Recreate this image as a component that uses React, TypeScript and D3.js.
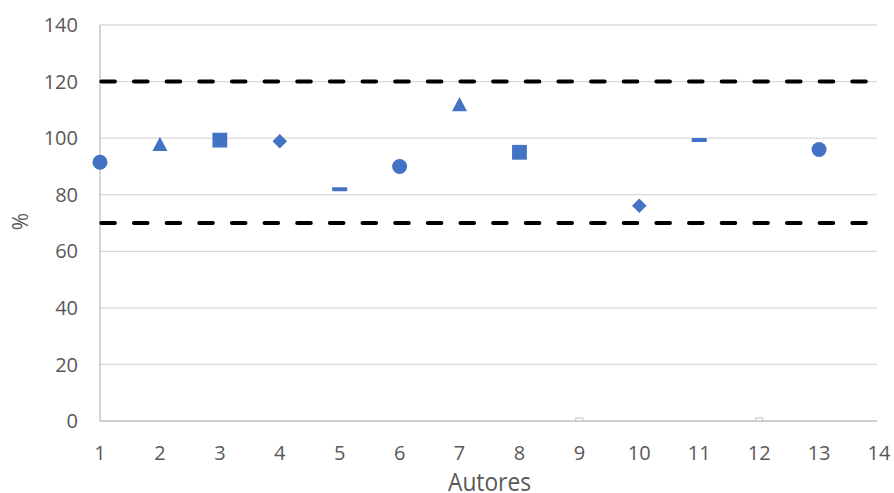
import React from "react";
import * as d3 from "d3";

const authors = [1, 2, 3, 4, 5, 6, 7, 8, 9, 10, 11, 12, 13];
const values = [91.5, 98, 99.3, 98.9, 81.9, 90, 112, 95, 0, 76.1, 99.3, 0, 96];
const shapes = ["circle", "triangle", "square", "diamond", "dash", "circle", "triangle", "square", "empty", "diamond", "dash", "empty", "circle"];
const xTicks = [1, 2, 3, 4, 5, 6, 7, 8, 9, 10, 11, 12, 13, 14];
const yTicks = [0, 20, 40, 60, 80, 100, 120, 140];
const limits = [120, 70];
const limitStart = 1;
const limitEnd = 13.78;

const W = 894;
const H = 493;
const M = { left: 100, right: 879, top: 25, bottom: 421 };
const BLUE = "#4472C4";
const TEXT = "#595959";
const FONT = "'Open Sans', 'Liberation Sans', sans-serif";

export default function App() {
  const x = d3.scaleLinear().domain([1, 14]).range([M.left, M.right]);
  const y = d3.scaleLinear().domain([0, 140]).range([M.bottom, M.top]);

  const marker = (s: string, i: number) => {
    const cx = x(authors[i]);
    const cy = y(values[i]);
    if (s === "circle") {
      return <circle key={i} cx={cx} cy={cy} r={7.5} fill={BLUE} />;
    }
    if (s === "square") {
      return <rect key={i} x={cx - 7.4} y={cy - 7.4} width={14.8} height={14.8} fill={BLUE} />;
    }
    if (s === "triangle") {
      const w = 15, h = 14.3;
      const p = `M0,${-h / 2}L${w / 2},${h / 2}L${-w / 2},${h / 2}Z`;
      return <path key={i} d={p} transform={`translate(${cx},${cy})`} fill={BLUE} />;
    }
    if (s === "diamond") {
      const p = d3.symbol(d3.symbolSquare, 106)();
      return <path key={i} d={p || ""} transform={`translate(${cx},${cy}) rotate(45)`} fill={BLUE} />;
    }
    if (s === "dash") {
      return <rect key={i} x={cx - 7.6} y={cy - 2} width={15.2} height={4} rx={0.8} fill={BLUE} />;
    }
    return <rect key={i} x={cx - 3.5} y={cy - 3} width={7} height={3} fill="white" stroke="#BFBFBF" strokeWidth={1} />;
  };

  return (
    <svg width={W} height={H} style={{ position: "absolute", left: 0, top: 0, display: "block" }}>
      <rect width={W} height={H} fill="white" />
      {yTicks.map((t) => (
        <line key={"g" + t} x1={M.left} x2={877} y1={y(t)} y2={y(t)} stroke={t === 0 ? "#BFBFBF" : "#D9D9D9"} strokeWidth={1.3} />
      ))}
      <line x1={M.left} x2={M.left} y1={M.top} y2={M.bottom} stroke="#BFBFBF" strokeWidth={1.3} />
      {limits.map((l) => (
        <line key={"l" + l} x1={x(limitStart) + 1.3} x2={x(limitEnd)} y1={y(l)} y2={y(l)} stroke="black" strokeWidth={4} strokeDasharray="13.6 19.05" strokeLinecap="round" />
      ))}
      {shapes.map((s, i) => marker(s, i))}
      {yTicks.map((t) => (
        <text key={"yt" + t} x={78} y={y(t)} dy="0.36em" textAnchor="end" fontFamily={FONT} fontSize={20} fill={TEXT}>
          {t}
        </text>
      ))}
      {xTicks.map((t) => (
        <text key={"xt" + t} x={x(t)} y={460} textAnchor="middle" fontFamily={FONT} fontSize={20} fill={TEXT}>
          {t}
        </text>
      ))}
      <text x={489.5} y={491} textAnchor="middle" fontFamily={FONT} fontSize={25} fill={TEXT} textLength={83} lengthAdjust="spacingAndGlyphs">
        Autores
      </text>
      <text transform={`translate(28,221.5) rotate(-90)`} textAnchor="middle" fontFamily={FONT} fontSize={21} fill={TEXT}>
        %
      </text>
    </svg>
  );
}
